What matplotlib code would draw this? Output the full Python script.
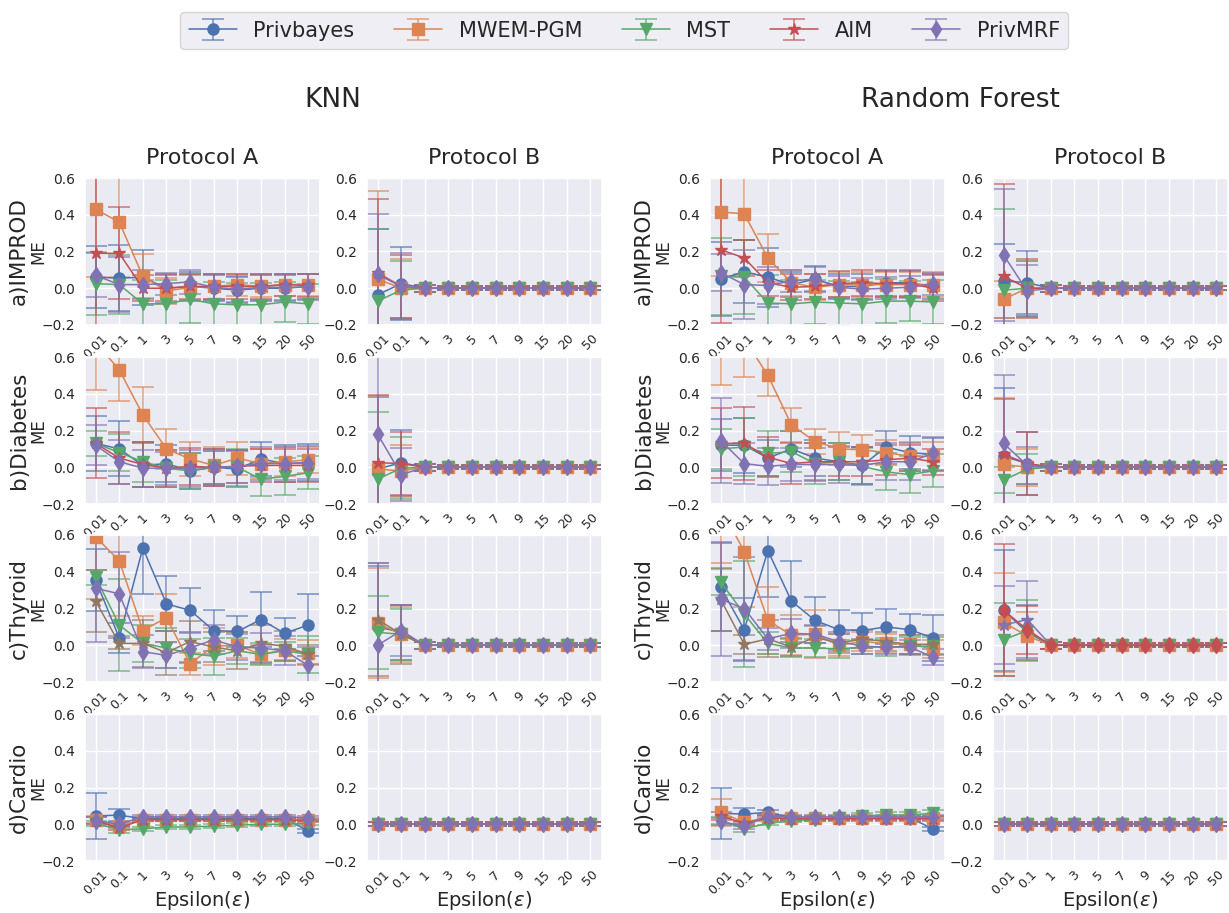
import matplotlib
matplotlib.use("Agg")
import matplotlib.pyplot as plt
import seaborn as sns

sns.set_theme(style="darkgrid")
plt.rcParams['font.family'] = ['DejaVu Sans']

EPS = ["0.01", "0.1", "1", "3", "5", "7", "9", "15", "20", "50"]
METHODS = ["Privbayes", "MWEM-PGM", "MST", "AIM", "PrivMRF"]
DATASETS = ["a)IMPROD", "b)Diabetes", "c)Thyroid", "d)Cardio"]
MODELS = ["KNN", "Random Forest"]
PROTOCOLS = ["Protocol A", "Protocol B"]

Z = [0.0] * 8
ZE = [0.02] + [0.01] * 7

# ---------------- KNN, Protocol A ----------------
KNN_A_IMPROD_MEAN = {
    "Privbayes": [0.06, 0.055, 0.06, 0.0, 0.01, 0.0, -0.01, 0.0, 0.0, 0.01],
    "MWEM-PGM": [0.43, 0.36, 0.065, -0.015, 0.005, 0.01, 0.02, 0.01, 0.02, 0.02],
    "MST": [0.025, 0.02, -0.085, -0.085, -0.06, -0.085, -0.09, -0.09, -0.075, -0.085],
    "AIM": [0.19, 0.19, 0.0, 0.0, 0.01, 0.01, 0.01, 0.01, 0.02, 0.015],
    "PrivMRF": [0.07, 0.02, 0.02, 0.025, 0.035, 0.005, -0.005, 0.005, 0.005, 0.005],
}
KNN_A_IMPROD_ERR = {
    "Privbayes": [0.17, 0.18, 0.15, 0.08, 0.08, 0.07, 0.07, 0.07, 0.07, 0.07],
    "MWEM-PGM": [0.37, 0.3, 0.12, 0.07, 0.07, 0.07, 0.06, 0.06, 0.06, 0.06],
    "MST": [0.17, 0.16, 0.13, 0.13, 0.13, 0.12, 0.12, 0.12, 0.11, 0.11],
    "AIM": [0.42, 0.25, 0.07, 0.07, 0.07, 0.07, 0.07, 0.07, 0.06, 0.065],
    "PrivMRF": [0.12, 0.15, 0.08, 0.06, 0.065, 0.07, 0.07, 0.07, 0.07, 0.07],
}
KNN_A_DIABETES_MEAN = {
    "Privbayes": [0.13, 0.1, 0.01, 0.02, -0.02, 0.0, -0.01, 0.045, 0.02, 0.025],
    "MWEM-PGM": [0.68, 0.53, 0.285, 0.1, 0.045, 0.01, 0.05, 0.02, 0.03, 0.04],
    "MST": [0.13, 0.08, 0.03, -0.005, -0.02, 0.0, 0.0, -0.065, -0.05, -0.03],
    "AIM": [0.13, 0.05, 0.015, -0.005, 0.005, 0.0, 0.005, 0.01, 0.01, 0.01],
    "PrivMRF": [0.12, 0.03, -0.005, -0.005, -0.005, 0.0, 0.005, 0.02, 0.02, 0.025],
}
KNN_A_DIABETES_ERR = {
    "Privbayes": [0.15, 0.15, 0.12, 0.1, 0.1, 0.1, 0.1, 0.09, 0.1, 0.1],
    "MWEM-PGM": [0.26, 0.17, 0.15, 0.11, 0.09, 0.1, 0.09, 0.08, 0.08, 0.07],
    "MST": [0.07, 0.1, 0.11, 0.1, 0.1, 0.09, 0.1, 0.09, 0.1, 0.09],
    "AIM": [0.19, 0.14, 0.12, 0.1, 0.1, 0.1, 0.09, 0.09, 0.09, 0.09],
    "PrivMRF": [0.11, 0.12, 0.1, 0.09, 0.1, 0.09, 0.09, 0.09, 0.09, 0.09],
}
KNN_A_THYROID_MEAN = {
    "Privbayes": [0.355, 0.04, 0.53, 0.225, 0.19, 0.08, 0.075, 0.14, 0.065, 0.11],
    "MWEM-PGM": [0.59, 0.46, 0.08, 0.15, -0.1, -0.005, 0.0, -0.05, -0.025, -0.04],
    "MST": [0.37, 0.11, 0.01, -0.015, -0.045, -0.06, -0.03, -0.05, -0.03, -0.05],
    "AIM": [0.24, 0.01, 0.01, -0.04, 0.02, -0.01, -0.03, 0.01, -0.005, -0.05],
    "PrivMRF": [0.31, 0.28, -0.035, -0.055, -0.015, 0.03, -0.01, -0.015, -0.03, -0.11],
}
KNN_A_THYROID_ERR = {
    "Privbayes": [0.17, 0.08, 0.25, 0.15, 0.12, 0.11, 0.085, 0.15, 0.085, 0.17],
    "MWEM-PGM": [0.34, 0.3, 0.08, 0.13, 0.06, 0.1, 0.07, 0.05, 0.06, 0.07],
    "MST": [0.04, 0.25, 0.1, 0.11, 0.08, 0.1, 0.07, 0.06, 0.05, 0.1],
    "AIM": [0.17, 0.03, 0.13, 0.12, 0.11, 0.08, 0.1, 0.1, 0.08, 0.05],
    "PrivMRF": [0.29, 0.23, 0.09, 0.07, 0.08, 0.08, 0.07, 0.08, 0.08, 0.1],
}
KNN_A_CARDIO_MEAN = {
    "Privbayes": [0.045, 0.05, 0.03, 0.03, 0.03, 0.03, 0.03, 0.03, 0.03, -0.035],
    "MWEM-PGM": [0.025, -0.01, 0.025, 0.025, 0.025, 0.025, 0.025, 0.025, 0.025, 0.025],
    "MST": [0.005, -0.03, -0.025, -0.015, -0.015, -0.01, -0.005, 0.0, 0.0, 0.005],
    "AIM": [0.02, -0.02, 0.025, 0.025, 0.025, 0.025, 0.025, 0.025, 0.025, 0.02],
    "PrivMRF": [0.02, 0.0, 0.04, 0.04, 0.04, 0.04, 0.04, 0.04, 0.04, 0.035],
}
KNN_A_CARDIO_ERR = {
    "Privbayes": [0.125, 0.035, 0.01, 0.01, 0.01, 0.01, 0.01, 0.01, 0.01, 0.01],
    "MWEM-PGM": [0.02, 0.01, 0.01, 0.01, 0.01, 0.01, 0.01, 0.01, 0.01, 0.01],
    "MST": [0.015, 0.015, 0.01, 0.01, 0.01, 0.01, 0.01, 0.01, 0.01, 0.01],
    "AIM": [0.02, 0.01, 0.01, 0.01, 0.01, 0.01, 0.01, 0.01, 0.01, 0.01],
    "PrivMRF": [0.02, 0.01, 0.01, 0.01, 0.01, 0.01, 0.01, 0.01, 0.01, 0.01],
}

# ---------------- KNN, Protocol B ----------------
KNN_B_IMPROD_MEAN = {
    "Privbayes": [-0.035, 0.025] + Z,
    "MWEM-PGM": [0.05, 0.0] + Z,
    "MST": [-0.07, -0.01] + Z,
    "AIM": [0.085, 0.01] + Z,
    "PrivMRF": [0.075, 0.01] + Z,
}
KNN_B_IMPROD_ERR = {
    "Privbayes": [0.36, 0.2] + ZE,
    "MWEM-PGM": [0.48, 0.16] + ZE,
    "MST": [0.39, 0.16] + ZE,
    "AIM": [0.4, 0.17] + ZE,
    "PrivMRF": [0.33, 0.18] + ZE,
}
KNN_B_DIABETES_MEAN = {
    "Privbayes": [-0.01, 0.025] + Z,
    "MWEM-PGM": [-0.01, -0.02] + Z,
    "MST": [-0.065, -0.005] + Z,
    "AIM": [0.025, 0.02] + Z,
    "PrivMRF": [0.18, -0.04] + Z,
}
KNN_B_DIABETES_ERR = {
    "Privbayes": [0.39, 0.18] + ZE,
    "MWEM-PGM": [0.4, 0.14] + ZE,
    "MST": [0.365, 0.17] + ZE,
    "AIM": [0.37, 0.17] + ZE,
    "PrivMRF": [0.5, 0.145] + ZE,
}
KNN_B_THYROID_MEAN = {
    "Privbayes": [0.10, 0.07] + Z,
    "MWEM-PGM": [0.12, 0.06] + Z,
    "MST": [0.07, 0.06] + Z,
    "AIM": [0.14, 0.06] + Z,
    "PrivMRF": [0.0, 0.08] + Z,
}
KNN_B_THYROID_ERR = {
    "Privbayes": [0.33, 0.15] + ZE,
    "MWEM-PGM": [0.3, 0.15] + ZE,
    "MST": [0.2, 0.14] + ZE,
    "AIM": [0.31, 0.16] + ZE,
    "PrivMRF": [0.45, 0.14] + ZE,
}
KNN_B_CARDIO_MEAN = {m: [0.0] * 10 for m in METHODS}
KNN_B_CARDIO_ERR = {m: [0.01] * 10 for m in METHODS}

# ---------------- Random Forest, Protocol A ----------------
RF_A_IMPROD_MEAN = {
    "Privbayes": [0.05, 0.09, 0.06, 0.02, 0.05, 0.01, 0.01, 0.03, 0.03, 0.01],
    "MWEM-PGM": [0.415, 0.405, 0.165, 0.03, 0.005, 0.02, 0.02, 0.02, 0.02, 0.02],
    "MST": [0.065, 0.06, -0.08, -0.085, -0.075, -0.08, -0.085, -0.07, -0.07, -0.075],
    "AIM": [0.21, 0.165, 0.03, 0.005, 0.01, 0.025, 0.03, 0.025, 0.025, 0.0],
    "PrivMRF": [0.085, 0.02, 0.015, 0.04, 0.05, 0.005, -0.005, 0.0, 0.005, 0.025],
}
RF_A_IMPROD_ERR = {
    "Privbayes": [0.2, 0.17, 0.16, 0.07, 0.07, 0.07, 0.07, 0.07, 0.07, 0.07],
    "MWEM-PGM": [0.35, 0.33, 0.13, 0.07, 0.07, 0.07, 0.07, 0.07, 0.07, 0.07],
    "MST": [0.21, 0.2, 0.15, 0.13, 0.12, 0.12, 0.12, 0.12, 0.11, 0.12],
    "AIM": [0.4, 0.1, 0.07, 0.07, 0.07, 0.07, 0.07, 0.07, 0.07, 0.07],
    "PrivMRF": [0.1, 0.19, 0.1, 0.06, 0.065, 0.06, 0.06, 0.06, 0.06, 0.06],
}
RF_A_DIABETES_MEAN = {
    "Privbayes": [0.12, 0.12, 0.05, 0.1, 0.05, 0.03, 0.01, 0.11, 0.08, 0.07],
    "MWEM-PGM": [0.8, 0.7, 0.5, 0.23, 0.14, 0.1, 0.095, 0.08, 0.06, 0.06],
    "MST": [0.1, 0.11, 0.075, 0.085, 0.02, 0.03, 0.005, -0.025, -0.04, -0.02],
    "AIM": [0.13, 0.13, 0.055, 0.02, 0.03, 0.03, 0.03, 0.04, 0.05, 0.03],
    "PrivMRF": [0.145, 0.02, 0.005, 0.015, 0.015, 0.015, 0.01, 0.03, 0.03, 0.075],
}
RF_A_DIABETES_ERR = {
    "Privbayes": [0.14, 0.15, 0.1, 0.1, 0.1, 0.1, 0.1, 0.09, 0.09, 0.09],
    "MWEM-PGM": [0.35, 0.21, 0.11, 0.09, 0.07, 0.09, 0.08, 0.07, 0.08, 0.08],
    "MST": [0.11, 0.16, 0.12, 0.11, 0.11, 0.1, 0.1, 0.1, 0.1, 0.09],
    "AIM": [0.19, 0.2, 0.11, 0.11, 0.1, 0.08, 0.08, 0.08, 0.07, 0.07],
    "PrivMRF": [0.23, 0.11, 0.1, 0.09, 0.09, 0.1, 0.1, 0.1, 0.1, 0.09],
}
RF_A_THYROID_MEAN = {
    "Privbayes": [0.315, 0.085, 0.515, 0.24, 0.135, 0.085, 0.08, 0.1, 0.085, 0.04],
    "MWEM-PGM": [0.75, 0.51, 0.135, 0.055, 0.06, 0.0, 0.02, 0.01, 0.005, -0.02],
    "MST": [0.345, 0.17, 0.01, -0.015, -0.015, -0.02, -0.01, -0.01, -0.005, -0.005],
    "AIM": [0.25, 0.005, 0.035, -0.01, 0.045, 0.01, 0.035, 0.02, 0.005, 0.005],
    "PrivMRF": [0.25, 0.2, 0.035, 0.065, 0.06, 0.02, -0.005, -0.01, -0.01, -0.065],
}
RF_A_THYROID_ERR = {
    "Privbayes": [0.24, 0.17, 0.25, 0.22, 0.125, 0.105, 0.095, 0.095, 0.085, 0.125],
    "MWEM-PGM": [0.3, 0.3, 0.18, 0.11, 0.13, 0.06, 0.05, 0.05, 0.05, 0.05],
    "MST": [0.07, 0.29, 0.06, 0.05, 0.05, 0.05, 0.04, 0.05, 0.05, 0.05],
    "AIM": [0.17, 0.05, 0.1, 0.05, 0.06, 0.05, 0.05, 0.05, 0.05, 0.05],
    "PrivMRF": [0.31, 0.28, 0.06, 0.08, 0.05, 0.05, 0.04, 0.04, 0.04, 0.045],
}
RF_A_CARDIO_MEAN = {
    "Privbayes": [0.06, 0.055, 0.065, 0.035, 0.035, 0.035, 0.035, 0.035, 0.035, -0.025],
    "MWEM-PGM": [0.065, 0.01, 0.04, 0.035, 0.035, 0.035, 0.035, 0.035, 0.035, 0.035],
    "MST": [0.02, -0.025, 0.005, 0.02, 0.025, 0.035, 0.045, 0.05, 0.05, 0.06],
    "AIM": [0.045, 0.005, 0.035, 0.03, 0.03, 0.03, 0.03, 0.03, 0.03, 0.03],
    "PrivMRF": [0.015, -0.01, 0.045, 0.04, 0.04, 0.04, 0.04, 0.04, 0.04, 0.04],
}
RF_A_CARDIO_ERR = {
    "Privbayes": [0.14, 0.035, 0.015, 0.01, 0.01, 0.01, 0.01, 0.01, 0.01, 0.01],
    "MWEM-PGM": [0.075, 0.01, 0.01, 0.01, 0.01, 0.01, 0.01, 0.01, 0.01, 0.01],
    "MST": [0.02, 0.015, 0.01, 0.01, 0.01, 0.01, 0.015, 0.015, 0.015, 0.015],
    "AIM": [0.02, 0.01, 0.01, 0.01, 0.01, 0.01, 0.01, 0.01, 0.01, 0.01],
    "PrivMRF": [0.02, 0.015, 0.01, 0.01, 0.01, 0.01, 0.01, 0.01, 0.01, 0.01],
}

# ---------------- Random Forest, Protocol B ----------------
RF_B_IMPROD_MEAN = {
    "Privbayes": [0.04, 0.03] + Z,
    "MWEM-PGM": [-0.06, 0.0] + Z,
    "MST": [-0.01, 0.0] + Z,
    "AIM": [0.065, 0.0] + Z,
    "PrivMRF": [0.18, -0.015] + Z,
}
RF_B_IMPROD_ERR = {
    "Privbayes": [0.2, 0.17] + ZE,
    "MWEM-PGM": [0.1, 0.15] + ZE,
    "MST": [0.44, 0.15] + ZE,
    "AIM": [0.5, 0.16] + ZE,
    "PrivMRF": [0.36, 0.14] + ZE,
}
RF_B_DIABETES_MEAN = {
    "Privbayes": [0.06, 0.02] + Z,
    "MWEM-PGM": [0.015, 0.0] + Z,
    "MST": [-0.07, -0.01] + Z,
    "AIM": [0.07, 0.02] + Z,
    "PrivMRF": [0.13, 0.01] + Z,
}
RF_B_DIABETES_ERR = {
    "Privbayes": [0.37, 0.17] + ZE,
    "MWEM-PGM": [0.36, 0.1] + ZE,
    "MST": [0.07, 0.08] + ZE,
    "AIM": [0.3, 0.17] + ZE,
    "PrivMRF": [0.37, 0.1] + ZE,
}
RF_B_THYROID_MEAN = {
    "Privbayes": [0.19, 0.07] + Z,
    "MWEM-PGM": [0.125, 0.05] + Z,
    "MST": [0.03, 0.08] + Z,
    "AIM": [0.11, 0.14] + Z,
    "PrivMRF": [0.19, 0.085] + Z,
}
RF_B_THYROID_ERR = {
    "Privbayes": [0.33, 0.15] + ZE,
    "MWEM-PGM": [0.27, 0.13] + ZE,
    "MST": [0.2, 0.165] + ZE,
    "AIM": [0.21, 0.21] + ZE,
    "PrivMRF": [0.36, 0.13] + ZE,
}
RF_B_CARDIO_MEAN = {m: [0.0] * 10 for m in METHODS}
RF_B_CARDIO_ERR = {m: [0.01] * 10 for m in METHODS}

PANELS = {
    (0, 0): [(KNN_A_IMPROD_MEAN, KNN_A_IMPROD_ERR), (KNN_A_DIABETES_MEAN, KNN_A_DIABETES_ERR),
             (KNN_A_THYROID_MEAN, KNN_A_THYROID_ERR), (KNN_A_CARDIO_MEAN, KNN_A_CARDIO_ERR)],
    (0, 1): [(KNN_B_IMPROD_MEAN, KNN_B_IMPROD_ERR), (KNN_B_DIABETES_MEAN, KNN_B_DIABETES_ERR),
             (KNN_B_THYROID_MEAN, KNN_B_THYROID_ERR), (KNN_B_CARDIO_MEAN, KNN_B_CARDIO_ERR)],
    (1, 0): [(RF_A_IMPROD_MEAN, RF_A_IMPROD_ERR), (RF_A_DIABETES_MEAN, RF_A_DIABETES_ERR),
             (RF_A_THYROID_MEAN, RF_A_THYROID_ERR), (RF_A_CARDIO_MEAN, RF_A_CARDIO_ERR)],
    (1, 1): [(RF_B_IMPROD_MEAN, RF_B_IMPROD_ERR), (RF_B_DIABETES_MEAN, RF_B_DIABETES_ERR),
             (RF_B_THYROID_MEAN, RF_B_THYROID_ERR), (RF_B_CARDIO_MEAN, RF_B_CARDIO_ERR)],
}

# ---------------- styling ----------------
PAL = sns.color_palette("deep")
COLORS = {"Privbayes": PAL[0], "MWEM-PGM": PAL[1], "MST": PAL[2], "AIM": PAL[3], "PrivMRF": PAL[4]}
MARKERS = {"Privbayes": "o", "MWEM-PGM": "s", "MST": "v", "AIM": "*", "PrivMRF": "d"}
MSIZE = {"Privbayes": 8, "MWEM-PGM": 8, "MST": 8, "AIM": 9, "PrivMRF": 8}
# colour quirks seen in the Thyroid row of the original
OVERRIDE = {
    (0, 0, 2): {"AIM": PAL[5]},
    (0, 1, 2): {"AIM": PAL[5]},
    (1, 0, 2): {"AIM": PAL[5]},
    (1, 1, 2): {"AIM": PAL[4], "PrivMRF": PAL[3]},
}

W, H = 1229, 913
fig = plt.figure(figsize=(W / 100, H / 100), dpi=100)
LEFTS = [85, 367, 710, 993]
BOTTOMS = [325, 504, 682, 861]
AW, AH = 235, 147

x = list(range(len(EPS)))
handles = None
for mi in range(2):
    for pi in range(2):
        col = mi * 2 + pi
        for ri in range(4):
            ax = fig.add_axes([LEFTS[col] / W, 1 - BOTTOMS[ri] / H, AW / W, AH / H])
            means, errs = PANELS[(mi, pi)][ri]
            ov = OVERRIDE.get((mi, pi, ri), {})
            hs = []
            for m in METHODS:
                c = ov.get(m, COLORS[m])
                eb = ax.errorbar(x, means[m], yerr=errs[m], color=c, marker=MARKERS[m],
                                 markersize=MSIZE[m], lw=1.1, elinewidth=1.1, capsize=8,
                                 capthick=1.1, label=m)
                for art in list(eb[1]) + list(eb[2]):
                    art.set_alpha(0.75)
                hs.append(eb)
            if handles is None:
                handles = hs
            ax.set_ylim(-0.2, 0.6)
            ax.set_yticks([-0.2, 0.0, 0.2, 0.4, 0.6])
            ax.set_yticklabels(["\u22120.2", "0.0", "0.2", "0.4", "0.6"], fontsize=10)
            ax.set_xlim(-0.45, 9.5)
            ax.set_xticks(x)
            ax.set_xticklabels(EPS, rotation=45, fontsize=9)
            ax.tick_params(axis="x", pad=-1)
            ax.tick_params(axis="y", pad=1)
            if ri == 0:
                ax.set_title(PROTOCOLS[pi], fontsize=16, pad=10)
            if ri == 3:
                ax.set_xlabel(r"Epsilon($\varepsilon$)", fontsize=14)
                ax.xaxis.set_label_coords(0.5, -0.19)
            if pi == 0:
                ax.text(-0.2, 0.5, "ME", rotation=90, fontsize=12,
                        ha="center", va="center", transform=ax.transAxes)
                ax.text(-0.28, 0.5, DATASETS[ri], rotation=90, fontsize=15.5,
                        ha="center", va="center", transform=ax.transAxes)

fig.text(333 / W, 1 - 100 / H, MODELS[0], fontsize=19, ha="center", va="center")
fig.text(960 / W, 1 - 100 / H, MODELS[1], fontsize=19, ha="center", va="center")

fig.legend(handles, METHODS, loc="upper center", bbox_to_anchor=(0.508, 0.998), ncol=5,
           fontsize=15, frameon=True, handlelength=2.3, columnspacing=1.9,
           borderpad=0.4)

fig.savefig("out.png", dpi=100)
